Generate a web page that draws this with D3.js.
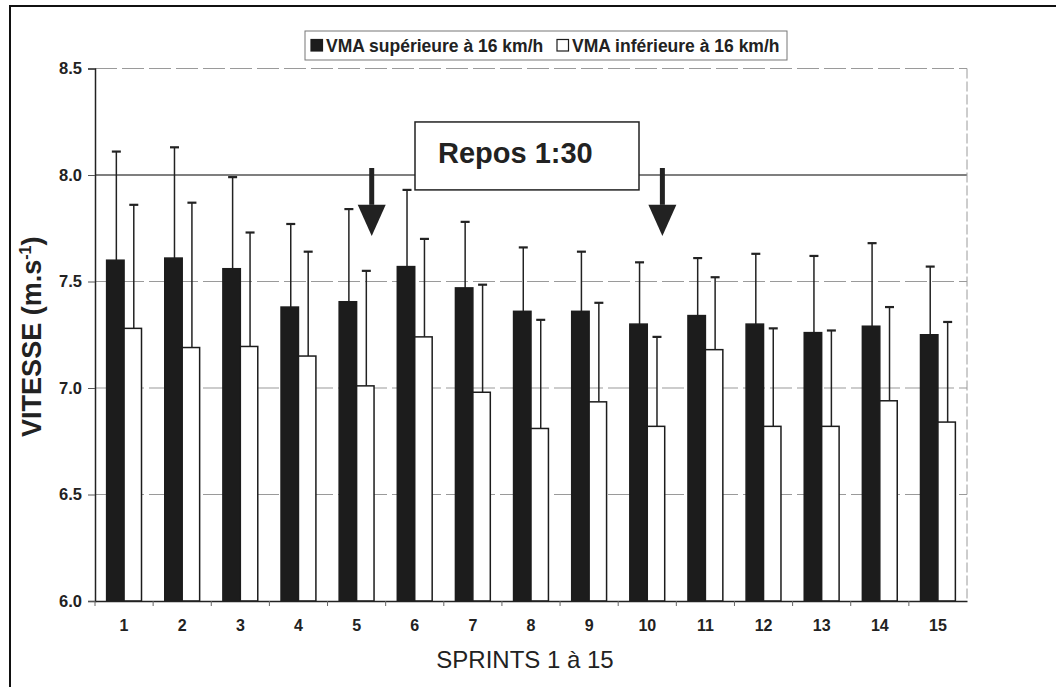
<!DOCTYPE html>
<html>
<head>
<meta charset="utf-8">
<script src="https://cdn.jsdelivr.net/npm/d3@7"></script>
<style>
  body { margin: 0; background: #fff; }
  svg { display: block; font-family: Arial, "Liberation Sans", sans-serif; }
</style>
</head>
<body>
<div class="chart"></div>
<script>
const sprints = ["1","2","3","4","5","6","7","8","9","10","11","12","13","14","15"];
const seriesNames = ["VMA supérieure à 16 km/h", "VMA inférieure à 16 km/h"];
const vmaSup = [7.60, 7.61, 7.56, 7.38, 7.405, 7.57, 7.47, 7.36, 7.36, 7.30, 7.34, 7.30, 7.26, 7.29, 7.25];
const vmaSupSd = [0.51, 0.52, 0.43, 0.39, 0.435, 0.36, 0.31, 0.30, 0.28, 0.29, 0.27, 0.33, 0.36, 0.39, 0.32];
const vmaInf = [7.28, 7.19, 7.195, 7.15, 7.01, 7.24, 6.98, 6.81, 6.935, 6.82, 7.18, 6.82, 6.82, 6.94, 6.84];
const vmaInfSd = [0.58, 0.68, 0.535, 0.49, 0.54, 0.46, 0.505, 0.51, 0.465, 0.42, 0.34, 0.46, 0.45, 0.44, 0.47];
const yTicks = [6.0, 6.5, 7.0, 7.5, 8.0, 8.5];
const reposLabel = "Repos 1:30";
const reposAfter = ["5", "10"];

const width = 1056, height = 687;
const margin = {top: 68.5, right: 89, bottom: 86, left: 95};

const data = sprints.map((s, i) => ({
  sprint: s,
  values: [
    {key: 0, mean: vmaSup[i], sd: vmaSupSd[i]},
    {key: 1, mean: vmaInf[i], sd: vmaInfSd[i]}
  ]
}));

const svg = d3.select(".chart").append("svg")
  .attr("width", width)
  .attr("height", height);

// outer frame (scan crop: only left and top edges visible)
svg.append("path")
  .attr("d", `M10,${height} L10,6 L${width},6`)
  .attr("fill", "none")
  .attr("stroke", "#111")
  .attr("stroke-width", 2);

const x = d3.scaleBand()
  .domain(sprints)
  .range([margin.left, width - margin.right])
  .paddingInner(0.4)
  .paddingOuter(0.2);

const xInner = d3.scaleBand()
  .domain([0, 1])
  .range([0, x.bandwidth()]);

const y = d3.scaleLinear()
  .domain([6.0, 8.5])
  .range([height - margin.bottom, margin.top]);

// grid lines
svg.append("g")
  .selectAll("line")
  .data(yTicks.slice(1))
  .join("line")
  .attr("x1", margin.left)
  .attr("x2", width - margin.right)
  .attr("y1", d => y(d))
  .attr("y2", d => y(d))
  .attr("stroke", d => d === 8.0 ? "#555" : "#9a9a9a")
  .attr("stroke-width", d => d === 8.0 ? 1.5 : 1.2)
  .attr("stroke-dasharray", d => d === 8.0 ? null : "22,5");

// right border of plot area
svg.append("line")
  .attr("x1", width - margin.right).attr("x2", width - margin.right)
  .attr("y1", margin.top).attr("y2", height - margin.bottom)
  .attr("stroke", "#9a9a9a")
  .attr("stroke-dasharray", "10,3");

// bars
const groups = svg.append("g")
  .selectAll("g")
  .data(data)
  .join("g")
  .attr("transform", d => `translate(${x(d.sprint)},0)`);

groups.selectAll("line.err")
  .data(d => d.values)
  .join("line")
  .attr("class", "err")
  .attr("x1", d => xInner(d.key) + xInner.bandwidth() / 2 + 1)
  .attr("x2", d => xInner(d.key) + xInner.bandwidth() / 2 + 1)
  .attr("y1", d => y(d.mean))
  .attr("y2", d => y(d.mean + d.sd))
  .attr("stroke", "#222")
  .attr("stroke-width", 1.5);

groups.selectAll("line.cap")
  .data(d => d.values)
  .join("line")
  .attr("class", "cap")
  .attr("x1", d => xInner(d.key) + xInner.bandwidth() / 2 - 3.5)
  .attr("x2", d => xInner(d.key) + xInner.bandwidth() / 2 + 5.5)
  .attr("y1", d => y(d.mean + d.sd))
  .attr("y2", d => y(d.mean + d.sd))
  .attr("stroke", "#222")
  .attr("stroke-width", 2.2);

groups.selectAll("rect")
  .data(d => d.values)
  .join("rect")
  .attr("x", d => xInner(d.key))
  .attr("y", d => y(d.mean))
  .attr("width", xInner.bandwidth())
  .attr("height", d => y(6.0) - y(d.mean))
  .attr("fill", d => d.key === 0 ? "#1c1c1c" : "#fff")
  .attr("stroke", "#1c1c1c")
  .attr("stroke-width", 1.5);

// y axis
const yAxis = svg.append("g")
  .attr("transform", `translate(${margin.left},0)`)
  .call(d3.axisLeft(y).tickValues(yTicks).tickFormat(d3.format(".1f")).tickSize(7).tickPadding(6));
yAxis.select(".domain").attr("stroke", "#222").attr("stroke-width", 1.5);
yAxis.selectAll(".tick line").attr("stroke", "#555");
yAxis.selectAll("text")
  .attr("font-size", 16.5)
  .attr("font-weight", "bold")
  .attr("fill", "#222");

// x axis
const xAxis = svg.append("g")
  .attr("transform", `translate(0,${height - margin.bottom})`)
  .call(d3.axisBottom(x).tickSize(0).tickPadding(19).tickSizeOuter(0));
xAxis.select(".domain").attr("stroke", "#222").attr("stroke-width", 1.5);
xAxis.selectAll("text")
  .attr("font-family", "'Liberation Sans Narrow', 'Arial Narrow', Arial, sans-serif")
  .attr("font-size", 16)
  .attr("font-weight", "bold")
  .attr("fill", "#222");

// small tick marks between groups on x axis
svg.append("g")
  .selectAll("line")
  .data(sprints)
  .join("line")
  .attr("x1", d => x(d) - x.step() * x.paddingInner() / 2)
  .attr("x2", d => x(d) - x.step() * x.paddingInner() / 2)
  .attr("y1", y(6.0))
  .attr("y2", y(6.0) + 5)
  .attr("stroke", "#666");

// axis titles
svg.append("text")
  .attr("x", (margin.left + width - margin.right) / 2 - 6)
  .attr("y", 668)
  .attr("text-anchor", "middle")
  .attr("font-size", 24)
  .attr("fill", "#222")
  .text("SPRINTS 1 à 15");

const yTitle = svg.append("text")
  .attr("transform", `translate(41,${(margin.top + height - margin.bottom) / 2 + 2}) rotate(-90)`)
  .attr("text-anchor", "middle")
  .attr("font-size", 27)
  .attr("font-weight", "bold")
  .attr("fill", "#222");
yTitle.append("tspan").text("VITESSE (m.s");
yTitle.append("tspan").attr("dy", -10).attr("font-size", 16).text("-1");
yTitle.append("tspan").attr("dy", 10).text(")");

// legend
const legend = svg.append("g");
legend.append("rect")
  .attr("x", 305).attr("y", 31)
  .attr("width", 482).attr("height", 29)
  .attr("fill", "#fff")
  .attr("stroke", "#777")
  .attr("stroke-width", 1);
const legendX = [311, 557];
seriesNames.forEach((name, i) => {
  legend.append("rect")
    .attr("x", legendX[i]).attr("y", 39.5)
    .attr("width", 11.5).attr("height", 11.5)
    .attr("fill", i === 0 ? "#1c1c1c" : "#fff")
    .attr("stroke", "#1c1c1c")
    .attr("stroke-width", 1.2);
  legend.append("text")
    .attr("x", legendX[i] + 15)
    .attr("y", 51.5)
    .attr("font-size", 17.5)
    .attr("font-weight", "bold")
    .attr("fill", "#222")
    .text(name);
});

// "Repos" annotation box and arrows
const boxW = 224, boxTop = y(8.249), boxBottom = y(7.93);
const boxX = (margin.left + width - margin.right) / 2 - 116;
svg.append("rect")
  .attr("x", boxX).attr("y", boxTop)
  .attr("width", boxW).attr("height", boxBottom - boxTop)
  .attr("fill", "#fff")
  .attr("stroke", "#222")
  .attr("stroke-width", 1.5);
svg.append("text")
  .attr("x", boxX + 23)
  .attr("y", boxTop + 41)
  .attr("font-size", 29)
  .attr("font-weight", "bold")
  .attr("fill", "#222")
  .text(reposLabel);

const arrows = svg.append("g")
  .selectAll("g")
  .data(reposAfter)
  .join("g")
  .attr("transform", d => `translate(${x(d) + x.step() * 0.56},0)`);
arrows.append("line")
  .attr("x1", 0).attr("x2", 0)
  .attr("y1", y(8.033)).attr("y2", y(7.86))
  .attr("stroke", "#222")
  .attr("stroke-width", 5);
arrows.append("path")
  .attr("d", `M-14,${y(7.86)} L14,${y(7.86)} L0,${y(7.714)} Z`)
  .attr("fill", "#222");
</script>
</body>
</html>
